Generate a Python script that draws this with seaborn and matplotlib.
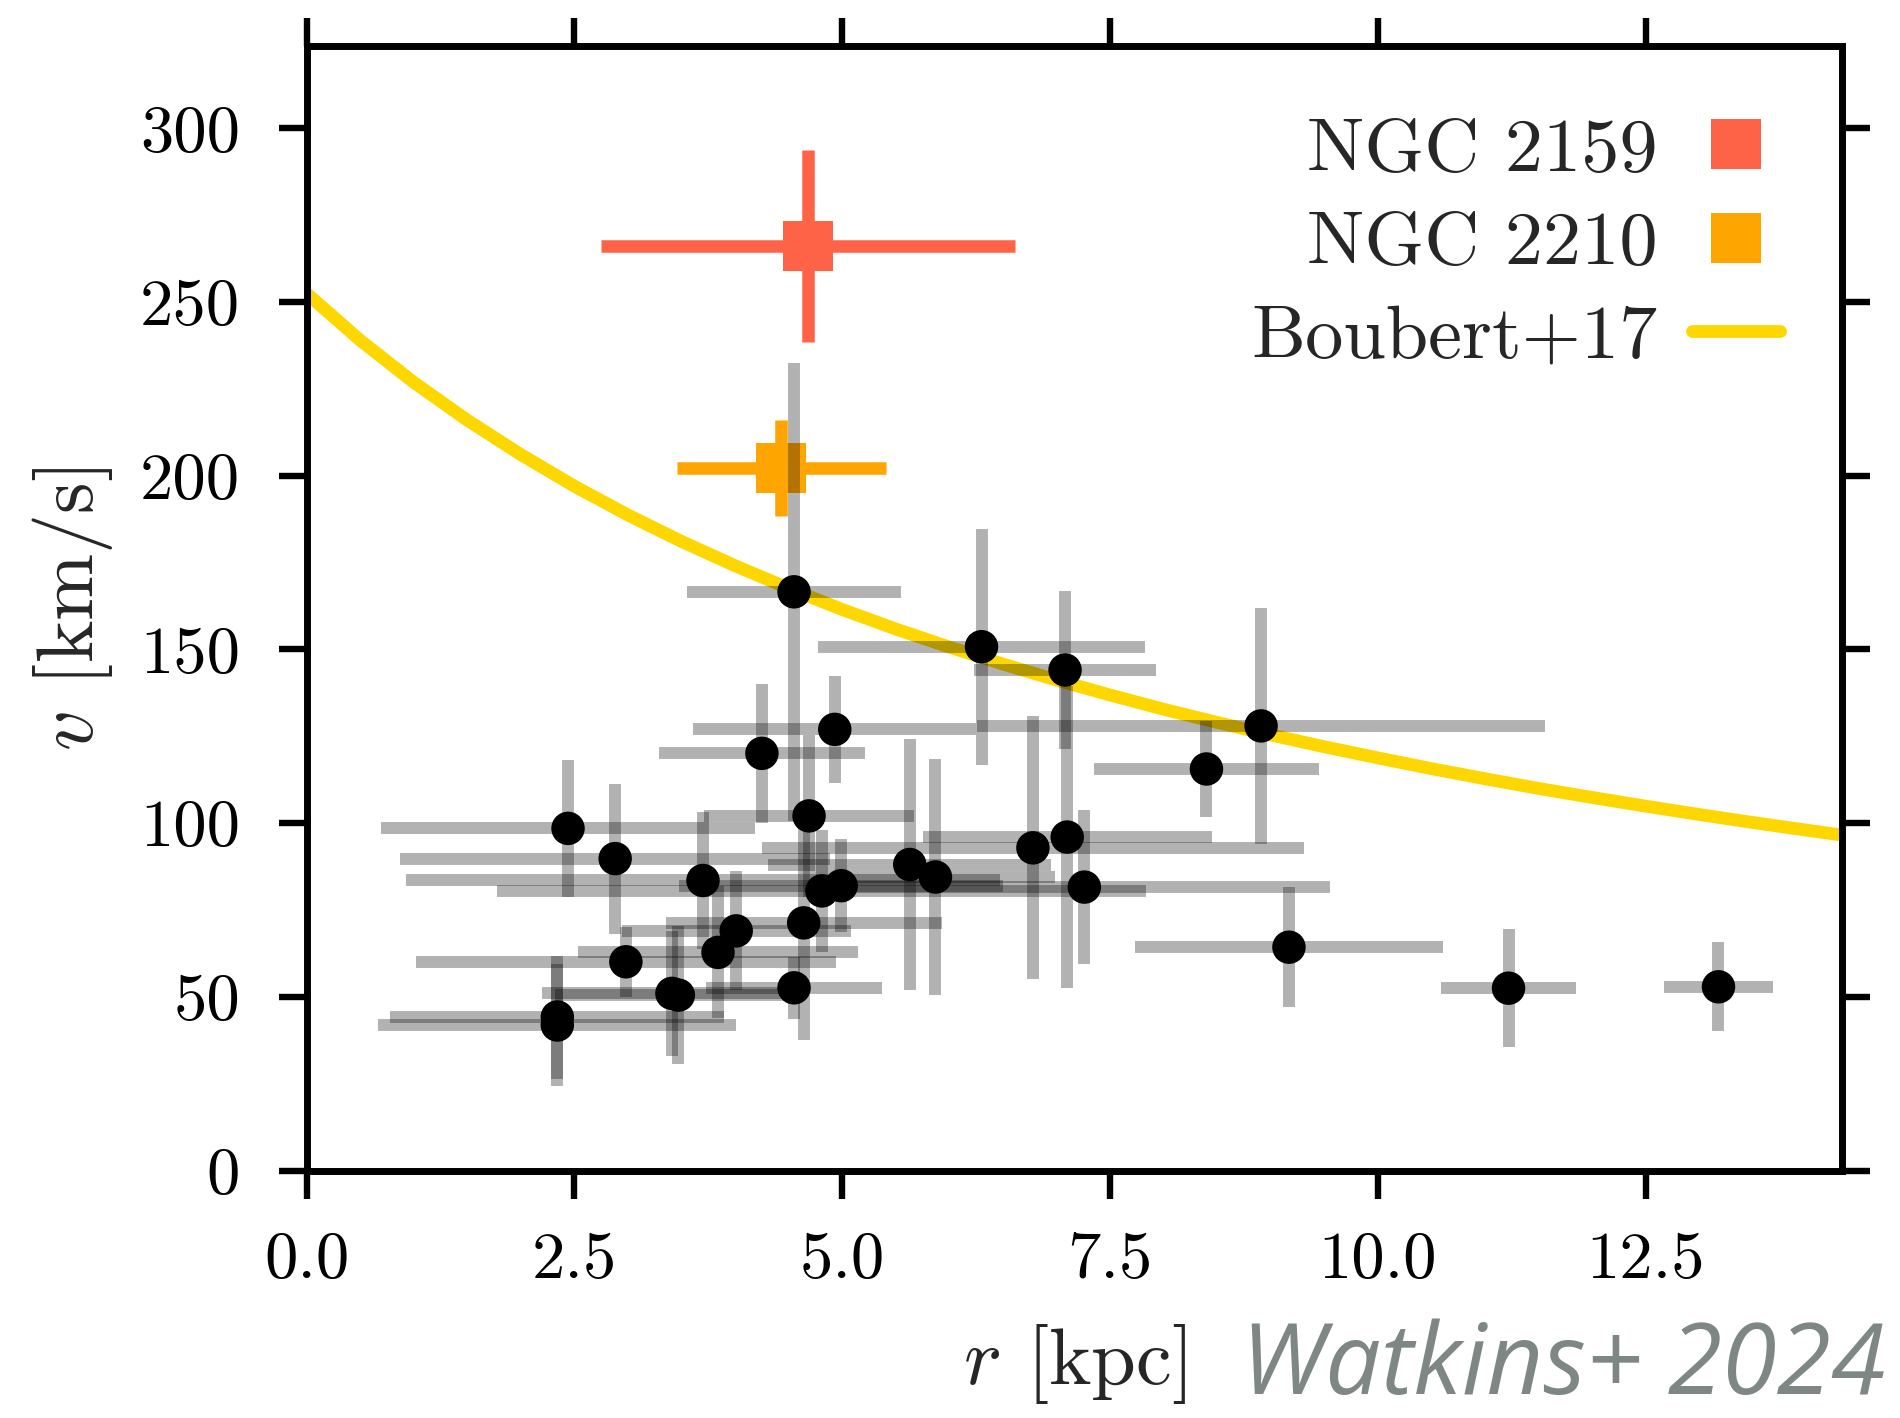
import numpy as np
import pandas as pd
import matplotlib
matplotlib.use("Agg")
import matplotlib.pyplot as plt
from matplotlib.lines import Line2D
import seaborn as sns

# ---------------- data ----------------
r_kpc = [2.44, 2.88, 3.70, 4.01, 2.98, 3.84, 3.41, 3.47, 2.34, 2.34,
         4.55, 4.64, 4.69, 4.81, 4.99, 4.25, 4.93, 4.55, 6.30, 7.08,
         5.63, 5.87, 6.78, 7.10, 7.26, 8.40, 8.91, 9.17, 11.22, 13.18]
v_kms = [98.5, 89.8, 83.5, 69.0, 60.1, 62.8, 51.0, 50.5, 44.2, 41.9,
         52.6, 71.3, 102.1, 80.5, 82.0, 120.1, 127.0, 166.6, 150.8, 144.1,
         88.1, 84.5, 92.9, 96.0, 81.6, 115.6, 128.0, 64.3, 52.5, 52.9]
r_err = [1.75, 2.01, 2.77, 1.07, 1.96, 1.31, 1.21, 1.15, 1.56, 1.67,
         0.82, 1.29, 0.98, 3.03, 1.51, 0.96, 1.32, 1.00, 1.53, 0.85,
         1.32, 1.12, 2.53, 1.35, 2.29, 1.05, 2.65, 1.44, 0.63, 0.51]
v_err = [19.7, 21.6, 19.7, 17.1, 10.0, 19.0, 18.1, 19.8, 17.7, 17.5,
         8.9, 33.7, 23.3, 17.5, 13.4, 20.0, 15.3, 66.0, 34.0, 22.7,
         36.0, 34.0, 37.9, 43.4, 22.2, 13.9, 34.0, 17.2, 17.0, 12.8]

cluster_names = ["NGC 2159", "NGC 2210"]
cluster_r = [4.68, 4.43]
cluster_v = [266.1, 202.3]
cluster_rerr = [1.93, 0.975]
cluster_verr = [27.6, 13.9]
cluster_colors = ["#ff6347", "#ffa500"]

boubert_label = "Boubert+17"
boubert_r = [0.0, 0.5, 1.0, 1.5, 2.0, 2.5, 3.0, 3.5, 4.0, 4.5, 5.0, 5.5,
             6.0, 6.5, 7.0, 7.5, 8.0, 8.5, 9.0, 9.5, 10.0, 10.5, 11.0,
             11.5, 12.0, 12.5, 13.0, 13.5, 14.0, 14.4]
boubert_v = [252.5, 239.0, 226.9, 216.0, 206.1, 197.0, 188.7, 181.1, 174.1,
             167.6, 161.5, 155.9, 150.7, 145.8, 141.2, 136.9, 132.8, 129.0,
             125.4, 122.0, 118.8, 115.7, 112.8, 110.0, 107.4, 104.9, 102.5,
             100.2, 98.0, 96.3]
boubert_color = "#ffd700"

x_ticks = [0.0, 2.5, 5.0, 7.5, 10.0, 12.5]
x_tick_labels = ["0.0", "2.5", "5.0", "7.5", "10.0", "12.5"]
y_ticks = [0, 50, 100, 150, 200, 250, 300]
y_tick_labels = ["0", "50", "100", "150", "200", "250", "300"]

# ---------------- style ----------------
sns.set_theme(style="ticks")
plt.rcParams.update({
    "font.family": ["cmr10", "DejaVu Serif"],
    "mathtext.fontset": "cm",
    "axes.formatter.use_mathtext": True,
    "axes.unicode_minus": False,
    "axes.linewidth": 2.5,
    "axes.edgecolor": "black",
    "xtick.major.width": 2.3,
    "ytick.major.width": 2.3,
    "xtick.major.size": 10,
    "ytick.major.size": 10,
    "xtick.color": "black",
    "ytick.color": "black",
})

fig = plt.figure(figsize=(9.5, 7.09), dpi=200)
ax = fig.add_axes([0.1614, 0.1745, 0.8079, 0.7930])

df = pd.DataFrame({"r": r_kpc, "v": v_kms, "r_err": r_err, "v_err": v_err})
curve = pd.DataFrame({"r": boubert_r, "v": boubert_v})

# model curve
sns.lineplot(data=curve, x="r", y="v", ax=ax, color=boubert_color,
             linewidth=4.6, zorder=1, legend=False)

# clusters (error bars + square markers)
for name, rc, vc, re, ve, col in zip(cluster_names, cluster_r, cluster_v,
                                     cluster_rerr, cluster_verr, cluster_colors):
    ax.errorbar(rc, vc, xerr=re, yerr=ve, fmt="none", ecolor=col,
                elinewidth=4.5, capsize=0, zorder=2)
    sns.scatterplot(x=[rc], y=[vc], ax=ax, marker="s", s=330, color=col,
                    edgecolor="none", linewidth=0, zorder=2, legend=False)

# field stars error bars
ax.errorbar(df["r"], df["v"], xerr=df["r_err"], yerr=df["v_err"], fmt="none",
            ecolor="black", alpha=0.3, elinewidth=4.3, capsize=0, zorder=3)
sns.scatterplot(data=df, x="r", y="v", ax=ax, color="black", s=145,
                edgecolor="none", linewidth=0, zorder=4, legend=False)

ax.set_xlim(0, 14.33)
ax.set_ylim(0, 323.7)
ax.set_xticks(x_ticks)
ax.set_xticklabels(x_tick_labels)
ax.set_yticks(y_ticks)
ax.set_yticklabels(y_tick_labels)
ax.tick_params(axis="both", which="major", direction="out", top=True, right=True,
               labeltop=False, labelright=False, labelsize=24, length=10, width=2.3)
ax.tick_params(axis="x", pad=12)
ax.tick_params(axis="y", pad=14)
for s in ax.spines.values():
    s.set_visible(True)
    s.set_linewidth(2.5)
    s.set_color("black")

ax.set_xlabel(r"$r$ [kpc]", fontsize=29, labelpad=11)
ax.set_ylabel(r"$v$ [km/s]", fontsize=29, labelpad=9)

handles = [
    Line2D([], [], linestyle="none", marker="s", markersize=18,
           markerfacecolor=cluster_colors[0], markeredgewidth=0),
    Line2D([], [], linestyle="none", marker="s", markersize=18,
           markerfacecolor=cluster_colors[1], markeredgewidth=0),
    Line2D([], [], color=boubert_color, linewidth=4.6),
]
labels = cluster_names + [boubert_label]
ax.legend(handles, labels, loc="upper right", bbox_to_anchor=(1.0046, 0.998),
          frameon=False, fontsize=27.5,
          markerfirst=False, handlelength=1.15, handletextpad=0.45,
          labelspacing=0.33, borderpad=0.4, borderaxespad=0.5)

fig.text(0.9925, 0.0, "Watkins+ 2024", ha="right", va="bottom",
         fontsize=35.5, family="Open Sans", style="italic", color="#7f8784")

fig.savefig("out.png", dpi=200)
